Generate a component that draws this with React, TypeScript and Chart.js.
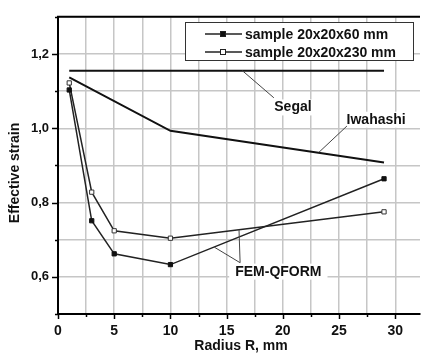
import React, { useEffect, useRef } from 'react';
import { Chart, registerables } from 'chart.js';

Chart.register(...registerables);

// ---- data ----
const radius = [1, 3, 5, 10, 29];
const strain60 = [1.103, 0.751, 0.662, 0.633, 0.864];
const strain230 = [1.122, 0.828, 0.724, 0.704, 0.775];
const segalX = [1, 29];
const segalY = [1.155, 1.155];
const iwahashiX = [1, 10, 29];
const iwahashiY = [1.137, 0.993, 0.908];

const xGridTicks = [0, 2.5, 5, 7.5, 10, 12.5, 15, 17.5, 20, 22.5, 25, 27.5, 30];
const xLabelTicks = [0, 5, 10, 15, 20, 25, 30];
const yGridTicks = [0.5, 0.6, 0.7, 0.8, 0.9, 1.0, 1.1, 1.2, 1.3];
const yLabelTicks = [0.6, 0.8, 1.0, 1.2];
const yLabels = ['0,6', '0,8', '1,0', '1,2'];

const seriesLabels = ['sample 20x20x60 mm', 'sample 20x20x230 mm'];
const xTitle = 'Radius R, mm';
const yTitle = 'Effective strain';

// annotation labels in data units, with leader lines
const annotations = [
  { text: 'Segal', x: 20.9, y: 1.056, leaders: [[[16.4, 1.155], [19.2, 1.082]]] },
  { text: 'Iwahashi', x: 28.3, y: 1.023, leaders: [[[23.2, 0.935], [25.7, 1.006]]] },
  {
    text: 'FEM-QFORM', x: 19.6, y: 0.614,
    leaders: [[[16.2, 0.638], [16.1, 0.727]], [[16.2, 0.638], [13.9, 0.680]]],
  },
];

const FONT = '"Liberation Sans", Arial, Helvetica, sans-serif';
const approx = (a: number, b: number) => Math.abs(a - b) < 1e-6;

const decorPlugin = {
  id: 'decor',
  afterDatasetsDraw(chart: any) {
    const ctx = chart.ctx;
    const xs = chart.scales.x;
    const ys = chart.scales.y;
    ctx.save();
    ctx.font = `bold 14px ${FONT}`;
    ctx.textAlign = 'center';
    ctx.textBaseline = 'middle';
    for (const a of annotations) {
      const px = xs.getPixelForValue(a.x);
      const py = ys.getPixelForValue(a.y);
      const w = ctx.measureText(a.text).width;
      ctx.fillStyle = '#ffffff';
      ctx.fillRect(px - w / 2 - 6, py - 8, w + 12, 16);
      ctx.strokeStyle = '#444';
      ctx.lineWidth = 1;
      for (const l of a.leaders) {
        ctx.beginPath();
        ctx.moveTo(xs.getPixelForValue(l[0][0]), ys.getPixelForValue(l[0][1]));
        ctx.lineTo(xs.getPixelForValue(l[1][0]), ys.getPixelForValue(l[1][1]));
        ctx.stroke();
      }
      ctx.fillStyle = '#111';
      ctx.fillText(a.text, px, py);
    }
    ctx.restore();
  },
  afterDraw(chart: any) {
    const ctx = chart.ctx;
    const xs = chart.scales.x;
    const ys = chart.scales.y;
    const ca = chart.chartArea;
    ctx.save();
    // top border
    ctx.strokeStyle = '#000';
    ctx.lineWidth = 2;
    ctx.beginPath();
    ctx.moveTo(ca.left - 1, ca.top);
    ctx.lineTo(ca.right, ca.top);
    ctx.stroke();
    // tick marks
    ctx.lineWidth = 1.5;
    for (const v of xGridTicks) {
      const p = Math.round(xs.getPixelForValue(v)) + 0.5;
      const major = xLabelTicks.some((t) => approx(t, v));
      ctx.beginPath();
      ctx.moveTo(p, ca.bottom);
      ctx.lineTo(p, ca.bottom + (major ? 5 : 3));
      ctx.stroke();
    }
    for (const v of yGridTicks) {
      const p = Math.round(ys.getPixelForValue(v)) + 0.5;
      const major = yLabelTicks.some((t) => approx(t, v));
      ctx.beginPath();
      ctx.moveTo(ca.left, p);
      ctx.lineTo(ca.left - (major ? 6 : 3), p);
      ctx.stroke();
    }
    // axis titles
    ctx.fillStyle = '#111';
    ctx.font = `bold 14px ${FONT}`;
    ctx.textAlign = 'center';
    ctx.textBaseline = 'middle';
    ctx.fillText(xTitle, (ca.left + ca.right) / 2 + 2, 346);
    ctx.save();
    ctx.translate(15, 173);
    ctx.rotate(-Math.PI / 2);
    ctx.fillText(yTitle, 0, 0);
    ctx.restore();
    // legend
    const bx = 185, by = 22, bw = 228, bh = 38;
    ctx.fillStyle = '#fff';
    ctx.fillRect(bx, by, bw, bh);
    ctx.strokeStyle = '#333';
    ctx.lineWidth = 1;
    ctx.strokeRect(bx + 0.5, by + 0.5, bw, bh);
    const rows = [34, 52];
    chart.data.datasets.slice(0, 2).forEach((ds: any, i: number) => {
      const y = rows[i];
      ctx.strokeStyle = ds.borderColor;
      ctx.lineWidth = 1.5;
      ctx.beginPath();
      ctx.moveTo(205, y);
      ctx.lineTo(242, y);
      ctx.stroke();
      ctx.fillStyle = ds.pointBackgroundColor;
      ctx.fillRect(220.5, y - 2.5, 5, 5);
      ctx.lineWidth = 1;
      ctx.strokeRect(220.5, y - 2.5, 5, 5);
      ctx.fillStyle = '#111';
      ctx.font = `bold 14px ${FONT}`;
      ctx.textAlign = 'left';
      ctx.textBaseline = 'middle';
      ctx.fillText(ds.label, 245, y + 1);
    });
    ctx.restore();
  },
};

export default function App() {
  const ref = useRef<HTMLCanvasElement | null>(null);
  useEffect(() => {
    if (!ref.current) return;
    const chart = new Chart(ref.current, {
      type: 'line',
      data: {
        datasets: [
          {
            label: seriesLabels[0],
            data: radius.map((x, i) => ({ x, y: strain60[i] })),
            borderColor: '#222',
            borderWidth: 1.5,
            pointStyle: 'rect',
            pointRadius: 3,
            pointBorderWidth: 1,
            pointBackgroundColor: '#111',
            pointBorderColor: '#111',
          },
          {
            label: seriesLabels[1],
            data: radius.map((x, i) => ({ x, y: strain230[i] })),
            borderColor: '#222',
            borderWidth: 1.5,
            pointStyle: 'rect',
            pointRadius: 3,
            pointBorderWidth: 1,
            pointBackgroundColor: '#fff',
            pointBorderColor: '#333',
          },
          {
            label: 'Segal',
            data: segalX.map((x, i) => ({ x, y: segalY[i] })),
            borderColor: '#111',
            borderWidth: 2,
            pointRadius: 0,
          },
          {
            label: 'Iwahashi',
            data: iwahashiX.map((x, i) => ({ x, y: iwahashiY[i] })),
            borderColor: '#111',
            borderWidth: 2,
            pointRadius: 0,
          },
        ],
      },
      options: {
        responsive: false,
        animation: false,
        devicePixelRatio: 1,
        layout: { padding: { top: 15, right: 0, left: 0, bottom: 0 } },
        plugins: { legend: { display: false }, tooltip: { enabled: false } },
        scales: {
          x: {
            type: 'linear',
            min: 0,
            max: 32.2,
            afterFit: (s: any) => { s.height = 40; },
            afterBuildTicks: (s: any) => { s.ticks = xGridTicks.map((v) => ({ value: v })); },
            ticks: {
              autoSkip: false,
              maxRotation: 0,
              padding: 9,
              color: '#111',
              font: { family: FONT, size: 14, weight: 'bold' },
              callback: (v: any) => {
                const i = xLabelTicks.findIndex((t) => approx(t, Number(v)));
                return i >= 0 ? String(xLabelTicks[i]) : '';
              },
            },
            grid: { color: '#c6c6c6', lineWidth: 1.5, drawTicks: false },
            border: { display: true, color: '#000', width: 2 },
          },
          y: {
            type: 'linear',
            min: 0.5,
            max: 1.3,
            afterFit: (s: any) => { s.width = 58; },
            afterBuildTicks: (s: any) => { s.ticks = yGridTicks.map((v) => ({ value: v })); },
            ticks: {
              autoSkip: false,
              padding: 9,
              color: '#111',
              font: { family: FONT, size: 13, weight: 'bold' },
              callback: (v: any) => {
                const i = yLabelTicks.findIndex((t) => approx(t, Number(v)));
                return i >= 0 ? yLabels[i] : '';
              },
            },
            grid: { color: '#c6c6c6', lineWidth: 1.5, drawTicks: false },
            border: { display: true, color: '#000', width: 2 },
          },
        },
      },
      plugins: [decorPlugin],
    } as any);
    return () => chart.destroy();
  }, []);
  return (
    <div style={{ position: 'absolute', left: 0, top: 0, width: 425, height: 354, background: '#fff' }}>
      <canvas ref={ref} width={425} height={354} style={{ width: 425, height: 354, display: 'block' }} />
    </div>
  );
}
